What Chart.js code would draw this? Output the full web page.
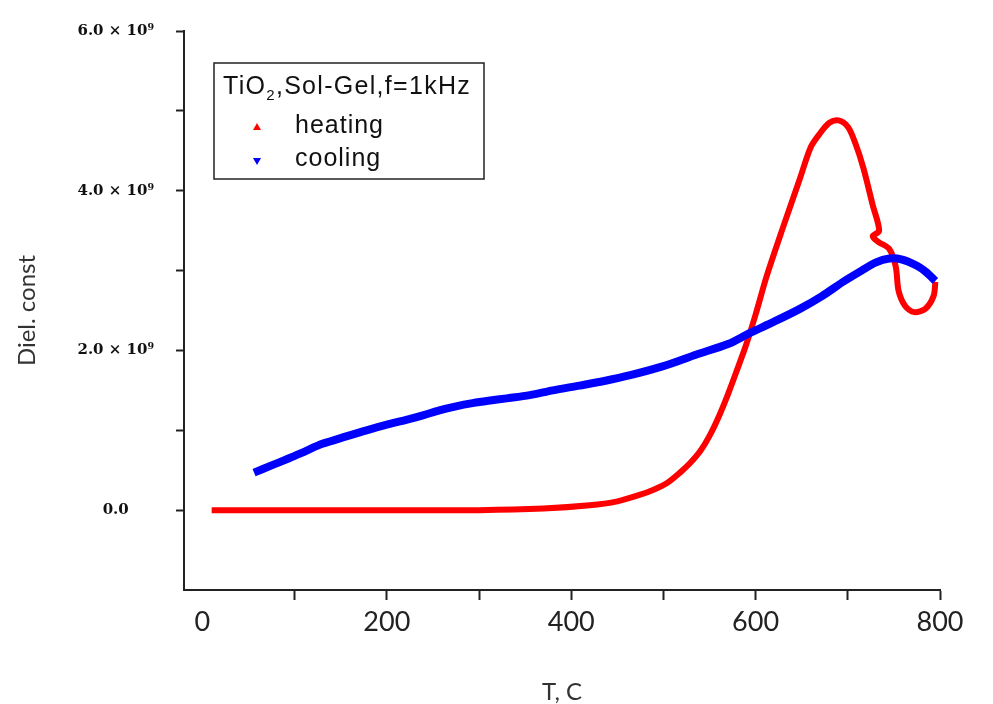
<!DOCTYPE html>
<html>
<head>
<meta charset="utf-8">
<script src="https://cdn.jsdelivr.net/npm/chart.js@4"></script>
<style>
  body { margin: 0; background: #fff; }
  #wrap { width: 993px; height: 704px; }
</style>
</head>
<body>
<div id="wrap"><canvas id="dielChart" width="993" height="704"></canvas></div>
<script>
// ===== DATA (permittivity in units of 10^9) =====
const heatingT = [10, 100, 200, 300, 370, 420, 450, 474, 490, 504, 518, 529, 540, 550, 560, 570, 580, 590, 600, 612,
    630, 648, 660, 670, 680, 690, 700, 708, 717, 727, 734, 727, 733, 745, 752, 755, 762, 772, 784, 793, 795];
const heatingEps = [0, 0, 0, 0, 0.02, 0.06, 0.11, 0.19, 0.26, 0.34, 0.47, 0.59, 0.74, 0.93, 1.17, 1.45, 1.76, 2.08, 2.45, 2.93,
    3.55, 4.15, 4.55, 4.72, 4.85, 4.88, 4.80, 4.60, 4.28, 3.82, 3.50, 3.43, 3.36, 3.27, 3.05, 2.75, 2.56, 2.48, 2.52, 2.68, 2.86];

const coolingT = [56, 75, 94, 112, 130, 155, 178, 200, 221, 240, 257, 275, 293, 310, 330, 355, 380, 409, 437, 464,
    499, 536, 570, 594, 620, 648, 672, 695, 715, 730, 745, 758, 775, 785, 795];
const coolingEps = [0.47, 0.56, 0.65, 0.74, 0.83, 0.92, 1.00, 1.07, 1.13, 1.19, 1.25, 1.30, 1.34, 1.37, 1.40, 1.44, 1.50, 1.56, 1.62, 1.69,
    1.80, 1.95, 2.08, 2.22, 2.36, 2.52, 2.68, 2.86, 3.00, 3.10, 3.15, 3.14, 3.06, 2.98, 2.87];

const xTickLabels = [0, 200, 400, 600, 800];
const yTickLabels = [0, 2, 4, 6];

// ===== LEGEND BOX (drawn inside plot) =====
const legendBoxPlugin = {
    id: 'legendBox',
    afterDraw(chart) {
        const ctx = chart.ctx;
        ctx.save();
        ctx.strokeStyle = '#222';
        ctx.lineWidth = 1.5;
        ctx.strokeRect(214, 63, 270, 116);

        ctx.fillStyle = '#111';
        ctx.textBaseline = 'alphabetic';
        ctx.textAlign = 'left';
        if ('letterSpacing' in ctx) ctx.letterSpacing = '1.3px';

        // title with subscript 2
        let x = 223;
        ctx.font = '25px "Liberation Sans", Arial, sans-serif';
        ctx.fillText('TiO', x, 94);
        x += ctx.measureText('TiO').width;
        ctx.font = '15px "Liberation Sans", Arial, sans-serif';
        ctx.fillText('2', x, 100);
        x += ctx.measureText('2').width;
        ctx.font = '25px "Liberation Sans", Arial, sans-serif';
        ctx.fillText(',Sol-Gel,f=1kHz', x, 94);

        // entries
        if ('letterSpacing' in ctx) ctx.letterSpacing = '1px';
        ctx.fillText('heating', 295, 133);
        ctx.fillText('cooling', 295, 166);

        ctx.fillStyle = '#ff0000';
        ctx.beginPath();
        ctx.moveTo(257, 123); ctx.lineTo(261, 130); ctx.lineTo(253, 130);
        ctx.closePath(); ctx.fill();

        ctx.fillStyle = '#0000ff';
        ctx.beginPath();
        ctx.moveTo(253, 158); ctx.lineTo(261, 158); ctx.lineTo(257, 165);
        ctx.closePath(); ctx.fill();
        ctx.restore();
    }
};

function toPoints(xs, ys) {
    return xs.map((x, i) => ({ x: x, y: ys[i] }));
}

const ctx = document.getElementById('dielChart');

const dielChart = new Chart(ctx, {
    type: 'scatter',
    data: {
        datasets: [{
            label: 'heating',
            data: toPoints(heatingT, heatingEps),
            showLine: true,
            borderColor: '#ff0000',
            backgroundColor: '#ff0000',
            borderWidth: 6,
            pointRadius: 0,
            tension: 0.3,
            order: 2
        }, {
            label: 'cooling',
            data: toPoints(coolingT, coolingEps),
            showLine: true,
            borderColor: '#0000ff',
            backgroundColor: '#0000ff',
            borderWidth: 8,
            pointRadius: 0,
            tension: 0.3,
            order: 1
        }]
    },
    options: {
        responsive: false,
        animation: false,
        devicePixelRatio: 1,
        layout: {
            padding: { top: 30, right: 53, left: 0, bottom: 0 }
        },
        plugins: {
            legend: { display: false },
            tooltip: { enabled: false }
        },
        scales: {
            x: {
                type: 'linear',
                min: -20,
                max: 800,
                afterFit: function(scale) { scale.height = 114; },
                border: { color: '#222', width: 2 },
                grid: {
                    drawOnChartArea: false,
                    drawTicks: true,
                    tickLength: 10,
                    tickWidth: 2,
                    tickColor: c => (c.tick && c.tick.value === 0) ? 'rgba(0,0,0,0)' : '#222'
                },
                ticks: {
                    stepSize: 100,
                    includeBounds: false,
                    maxRotation: 0,
                    autoSkip: false,
                    padding: 6,
                    color: '#222',
                    font: { family: 'Lato', size: 27 },
                    callback: v => xTickLabels.includes(v) ? String(v) : ''
                },
                title: {
                    display: true,
                    text: 'T, C',
                    color: '#333',
                    font: { family: 'Lato', size: 24, lineHeight: 1.0 },
                    padding: { top: 0, bottom: 0 }
                }
            },
            y: {
                type: 'linear',
                min: -1,
                max: 6,
                afterFit: function(scale) { scale.width = 184; },
                border: { color: '#222', width: 2 },
                grid: {
                    drawOnChartArea: false,
                    drawTicks: true,
                    tickLength: 8,
                    tickWidth: 2,
                    tickColor: c => (c.tick && c.tick.value === -1) ? 'rgba(0,0,0,0)' : '#222'
                },
                ticks: {
                    stepSize: 1,
                    autoSkip: false,
                    crossAlign: 'center',
                    padding: 22,
                    color: '#111',
                    font: { family: '"DejaVu Serif"', size: 15, weight: 'bold' },
                    callback: v => {
                        if (!yTickLabels.includes(v)) return '';
                        return v === 0 ? '0.0' : v.toFixed(1) + ' \u00d7 10\u2079';
                    }
                },
                title: {
                    display: true,
                    text: 'Diel. const',
                    color: '#333',
                    font: { family: 'Lato', size: 24, lineHeight: 1.0 },
                    padding: { top: 15, bottom: 0 }
                }
            }
        }
    },
    plugins: [legendBoxPlugin]
});
</script>
</body>
</html>
